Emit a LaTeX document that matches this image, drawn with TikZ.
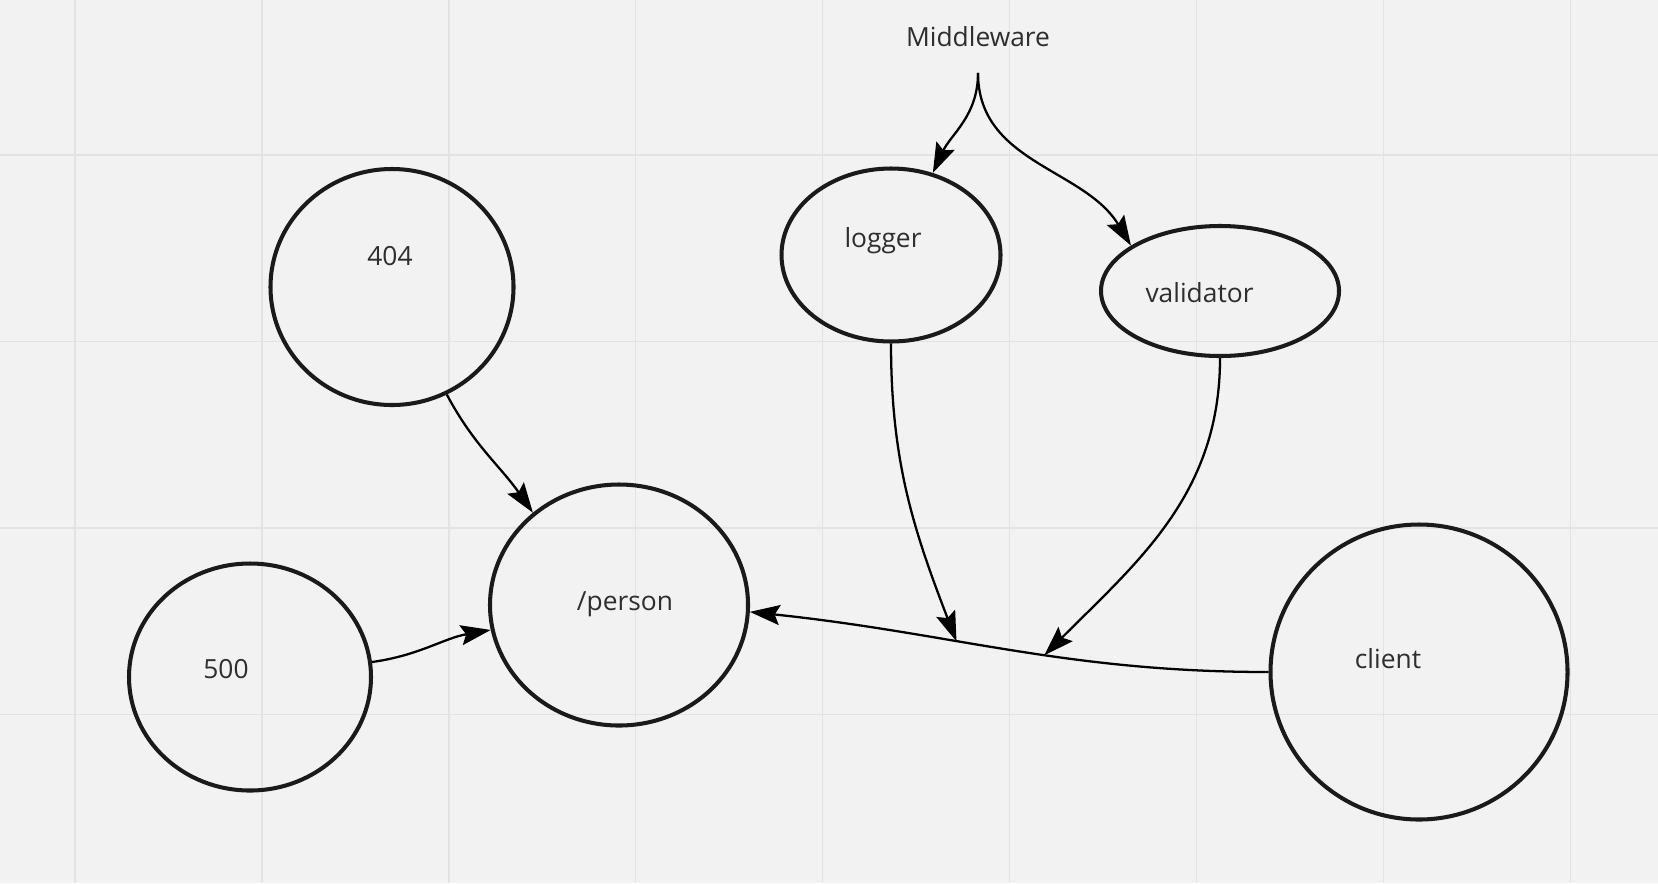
\documentclass[tikz,border=0pt]{standalone}
\usepackage{fontspec}
\setmainfont{Open Sans}
\usepackage{tikz}
\usetikzlibrary{arrows.meta,shapes.geometric}
\definecolor{board}{HTML}{F2F2F2}
\definecolor{gridcol}{HTML}{E3E3E3}
\definecolor{ink}{HTML}{1A1A1A}
\definecolor{txtcol}{HTML}{2E2E2E}

\begin{document}
\begin{tikzpicture}[>={Stealth[length=3mm,width=2mm,inset=0.5mm]},
                    bub/.style = {ellipse, draw=ink, line width=1.15pt, inner sep=0pt},
                    lbl/.style = {anchor=base, inner sep=0pt, text=txtcol,
                                  font=\fontsize{7.5}{9}\selectfont},
                    grd/.style = {draw=gridcol, line width=0.4pt},
                    every edge/.append style = {draw=black, line width=0.65pt}
                    ]
\useasboundingbox (0,0) rectangle (16.58,-8.83);
\fill[board] (0,0) rectangle (16.58,-8.83);

% grid
\foreach \i in {0,...,8}
  \path[grd] ({0.75+1.869*\i},0) -- ++(0,-8.83);
\foreach \j in {0,...,3}
  \path[grd] (0,{-1.55-1.865*\j}) -- ++(16.58,0);

% bubbles
\node[bub, minimum width=2.43cm, minimum height=2.36cm] (e404)      at (3.92,-2.87)  {};
\node[bub, minimum width=2.42cm, minimum height=2.27cm] (e500)      at (2.50,-6.77)  {};
\node[bub, minimum width=2.58cm, minimum height=2.41cm] (person)    at (6.19,-6.05)  {};
\node[bub, minimum width=2.19cm, minimum height=1.73cm] (logger)    at (8.91,-2.55)  {};
\node[bub, minimum width=2.38cm, minimum height=1.30cm] (validator) at (12.20,-2.91) {};
\node[bub, minimum width=2.97cm, minimum height=2.95cm] (client)    at (14.19,-6.72) {};

% texts
\node[lbl] (t404)       at (3.90,-2.65)  {404};
\node[lbl] (t500)       at (2.26,-6.78)  {500};
\node[lbl] (tperson)    at (6.25,-6.10)  {/person};
\node[lbl] (tlogger)    at (8.83,-2.47)  {logger};
\node[lbl] (tvalidator) at (11.995,-3.02) {validator};
\node[lbl] (tclient)    at (13.88,-6.68) {client};
\node[lbl] (mw)         at (9.78,-0.46)  {Middleware};

\coordinate (fork) at ([yshift=-0.26cm]mw.south);

\path[->]
    (client.west) edge[out=180,in=-6]
        coordinate[pos=0.61] (hitA)
        coordinate[pos=0.425] (hitB) (person.-3);

\path[->]
    (fork)        edge[out=-90,in=65]  (logger.63)
    (fork)        edge[out=-90,in=121] (validator.153)
    (e404.-63)    edge[out=-62,in=125] (person.133)
    (e500.7)      edge[out=8,in=190]   (person.191)
    (logger.south)    edge[out=-90,in=111] (hitA)
    (validator.south) edge[out=-90,in=45]  (hitB);
\end{tikzpicture}
\end{document}
